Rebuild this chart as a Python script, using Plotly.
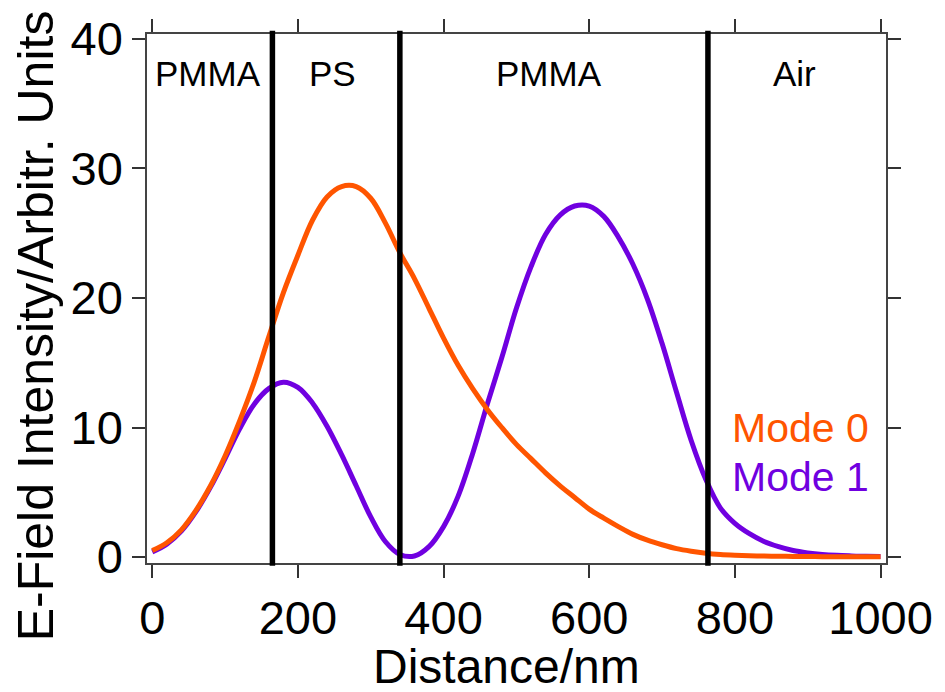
import plotly.graph_objects as go

# Distance through the layer stack (nm)
distance = [0, 20, 40, 60, 80, 100, 120, 140, 160, 180, 200, 220, 240, 260, 280,
            300, 320, 340, 360, 380, 400, 420, 440, 460, 480, 500, 520, 540, 560,
            580, 600, 620, 640, 660, 680, 700, 720, 740, 760, 780, 800, 820, 840,
            860, 880, 900, 920, 940, 960, 980, 1000]

# Mode 0 field intensity
mode0 = [0.5, 1.1, 2.1, 3.6, 5.5, 7.8, 10.5, 13.5, 17.0, 20.4, 23.3, 26.0, 27.8,
         28.6, 28.6, 27.7, 25.8, 23.5, 21.5, 19.2, 16.9, 14.8, 13.0, 11.4, 10.0,
         8.7, 7.6, 6.5, 5.5, 4.6, 3.7, 3.0, 2.35, 1.75, 1.3, 0.95, 0.65, 0.45,
         0.3, 0.2, 0.14, 0.1, 0.08, 0.06, 0.05, 0.04, 0.03, 0.03, 0.02, 0.02, 0.02]

# Mode 1 field intensity
mode1 = [0.4, 1.0, 2.0, 3.5, 5.4, 7.6, 9.9, 11.8, 13.0, 13.5, 13.1, 11.9, 10.1,
         7.9, 5.5, 3.1, 1.2, 0.2, 0.08, 0.8, 2.35, 4.7, 8.0, 11.8, 15.4, 19.2,
         22.4, 24.9, 26.4, 27.1, 27.1, 26.3, 24.7, 22.6, 19.9, 16.5, 12.7, 9.0,
         6.0, 3.8, 2.6, 1.8, 1.2, 0.8, 0.5, 0.32, 0.2, 0.13, 0.09, 0.06, 0.05]

# Layer interfaces (nm) and layer names
interfaces = [165, 340, 763]
layer_names = ["PMMA", "PS", "PMMA", "Air"]
layer_centers = [76, 247, 545, 882]

mode_labels = ["Mode 0", "Mode 1"]
mode_colors = ["#ff5500", "#7000e0"]

FONT = "Arial, Liberation Sans, sans-serif"

fig = go.Figure()
fig.add_trace(go.Scatter(x=distance, y=mode1, mode="lines", line_shape="spline",
                         line=dict(color=mode_colors[1], width=5),
                         name=mode_labels[1], showlegend=False))
fig.add_trace(go.Scatter(x=distance, y=mode0, mode="lines", line_shape="spline",
                         line=dict(color=mode_colors[0], width=5),
                         name=mode_labels[0], showlegend=False))

for xi in interfaces:
    fig.add_shape(type="line", x0=xi, x1=xi, xref="x", yref="paper",
                  y0=-0.005, y1=1.006, line=dict(color="black", width=5.5),
                  layer="above")

for name, xc in zip(layer_names, layer_centers):
    fig.add_annotation(x=xc, y=37.3, xref="x", yref="y", text=name,
                       showarrow=False, font=dict(family=FONT, size=35, color="black"))

for i, (lab, col) in enumerate(zip(mode_labels, mode_colors)):
    fig.add_annotation(x=0.789, y=10.0 - 3.8 * i, xref="paper", yref="y", text=lab,
                       xanchor="left", showarrow=False,
                       font=dict(family=FONT, size=41, color=col))

# Axis titles
fig.add_annotation(x=-0.149, y=0.449, xref="paper", yref="paper",
                   text="E-Field Intensity/Arbitr. Units", textangle=-90,
                   xanchor="center", yanchor="middle", showarrow=False,
                   font=dict(family=FONT, size=50, color="black"))
fig.add_annotation(x=0.486, y=-0.196, xref="paper", yref="paper",
                   text="Distance/nm", xanchor="center", yanchor="middle",
                   showarrow=False, font=dict(family=FONT, size=48, color="black"))

axis_common = dict(showline=True, linecolor="#444", linewidth=1.5, mirror="allticks",
                   ticks="outside", ticklen=13, tickwidth=1.5, tickcolor="#333",
                   showgrid=False, zeroline=False,
                   tickfont=dict(family=FONT, size=47, color="black"))

fig.update_xaxes(range=[-7.2, 1007.5], tickvals=[0, 200, 400, 600, 800, 1000],
                 **axis_common)
fig.update_yaxes(range=[-0.46, 40.38], tickvals=[0, 10, 20, 30, 40],
                 **axis_common)

fig.update_layout(width=945, height=692, plot_bgcolor="white", paper_bgcolor="white",
                  margin=dict(l=147, r=54, t=28, b=129))

fig.write_html("out.html")
